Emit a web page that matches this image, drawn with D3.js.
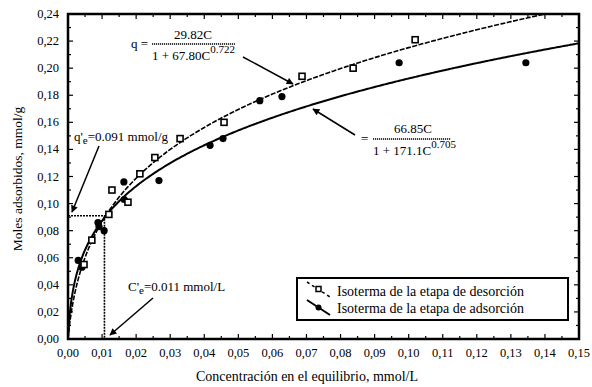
<!DOCTYPE html>
<html>
<head>
<meta charset="utf-8">
<script src="https://cdn.jsdelivr.net/npm/d3@7"></script>
</head>
<body style="margin:0;background:#fff">
<svg id="chart" width="592" height="387"></svg>
<script>
// Measured isotherm points: concentration (mmol/L) and amount adsorbed (mmol/g)
const desorcionC = [0.0047, 0.0070, 0.0120, 0.0129, 0.0176, 0.0211, 0.0255, 0.0329, 0.0458, 0.0687, 0.0837, 0.1019];
const desorcionQ = [0.055, 0.073, 0.092, 0.110, 0.101, 0.122, 0.134, 0.148, 0.160, 0.194, 0.200, 0.221];
const adsorcionC = [0.0030, 0.0041, 0.0088, 0.0091, 0.0106, 0.0164, 0.0165, 0.0267, 0.0417, 0.0455, 0.0563, 0.0628, 0.0972, 0.1344];
const adsorcionQ = [0.058, 0.053, 0.086, 0.083, 0.080, 0.116, 0.103, 0.117, 0.143, 0.148, 0.176, 0.179, 0.204, 0.204];

// Fitted Sips-type models q = a*C / (1 + b*C^n)
const modeloDesorcion = [29.82, 67.80, 0.722];
const modeloAdsorcion = [66.85, 171.1, 0.705];

// Saturation point marked on the plot
const puntoCe = 0.011;
const puntoQe = 0.091;

const xTicks = [0, 0.01, 0.02, 0.03, 0.04, 0.05, 0.06, 0.07, 0.08, 0.09, 0.10, 0.11, 0.12, 0.13, 0.14, 0.15];
const yTicks = [0, 0.02, 0.04, 0.06, 0.08, 0.10, 0.12, 0.14, 0.16, 0.18, 0.20, 0.22, 0.24];
const legendLabels = ["Isoterma de la etapa de desorción", "Isoterma de la etapa de adsorción"];

const FONT = '"Liberation Serif", "Times New Roman", serif';
const svg = d3.select("#chart");
const x = d3.scaleLinear().domain([0, 0.15]).range([68, 579]);
const y = d3.scaleLinear().domain([0, 0.24]).range([339, 14]);
const fmt = d => d3.format(".2f")(d).replace(".", ",");

svg.append("defs").append("clipPath").attr("id", "plotClip")
  .append("rect").attr("x", 68).attr("y", 14).attr("width", 511).attr("height", 325);

const marker = svg.select("defs").append("marker")
  .attr("id", "arrow").attr("viewBox", "0 0 10 10").attr("refX", 9).attr("refY", 5)
  .attr("markerWidth", 9).attr("markerHeight", 7).attr("markerUnits", "userSpaceOnUse")
  .attr("orient", "auto");
marker.append("path").attr("d", "M0,0 L10,5 L0,10 z").attr("fill", "#000");

// Tick marks on all four sides, pointing inward
const minorX = d3.range(0.005, 0.15, 0.01);
const minorY = d3.range(0.01, 0.24, 0.02);
const tickG = svg.append("g").attr("stroke", "#000").attr("stroke-width", 1.2);
xTicks.forEach(t => {
  tickG.append("line").attr("x1", x(t)).attr("x2", x(t)).attr("y1", 339).attr("y2", 334);
  tickG.append("line").attr("x1", x(t)).attr("x2", x(t)).attr("y1", 14).attr("y2", 19);
});
minorX.forEach(t => {
  tickG.append("line").attr("x1", x(t)).attr("x2", x(t)).attr("y1", 339).attr("y2", 336);
  tickG.append("line").attr("x1", x(t)).attr("x2", x(t)).attr("y1", 14).attr("y2", 17);
});
yTicks.forEach(t => {
  tickG.append("line").attr("x1", 68).attr("x2", 73).attr("y1", y(t)).attr("y2", y(t));
  tickG.append("line").attr("x1", 579).attr("x2", 574).attr("y1", y(t)).attr("y2", y(t));
});
minorY.forEach(t => {
  tickG.append("line").attr("x1", 68).attr("x2", 71).attr("y1", y(t)).attr("y2", y(t));
  tickG.append("line").attr("x1", 579).attr("x2", 576).attr("y1", y(t)).attr("y2", y(t));
});

// Tick labels
svg.append("g").selectAll("text").data(xTicks).join("text")
  .attr("x", d => x(d)).attr("y", 357).attr("text-anchor", "middle")
  .attr("font-size", 12.5).text(fmt);
svg.append("g").selectAll("text").data(yTicks).join("text")
  .attr("x", 59).attr("y", d => y(d) + 4).attr("text-anchor", "end")
  .attr("font-size", 12.5).text(fmt);

// Axis titles
svg.append("text").attr("x", 307).attr("y", 381).attr("text-anchor", "middle")
  .attr("font-size", 14).text("Concentración en el equilibrio, mmol/L");
svg.append("text").attr("transform", "translate(22,179) rotate(-90)")
  .attr("text-anchor", "middle").attr("font-size", 13.5).text("Moles adsorbidos, mmol/g");

// Model curves
const model = p => c => p[0] * c / (1 + p[1] * Math.pow(c, p[2]));
const cs = d3.range(0, 0.15001, 0.0005);
const line = d3.line().x(d => x(d[0])).y(d => y(d[1]));
const curves = svg.append("g").attr("clip-path", "url(#plotClip)").attr("fill", "none").attr("stroke", "#000");
curves.append("path").attr("d", line(cs.map(c => [c, model(modeloDesorcion)(c)])))
  .attr("stroke-width", 1.6).attr("stroke-dasharray", "5,1.5");
curves.append("path").attr("d", line(cs.map(c => [c, model(modeloAdsorcion)(c)])))
  .attr("stroke-width", 2);

// Saturation guides
const guide = svg.append("g").attr("stroke", "#000").attr("stroke-width", 1.6).attr("stroke-dasharray", "2,1");
guide.append("line").attr("x1", x(0)).attr("x2", x(0.013)).attr("y1", y(puntoQe)).attr("y2", y(puntoQe));
guide.append("line").attr("x1", x(0.0107)).attr("x2", x(0.0107)).attr("y1", y(puntoQe)).attr("y2", y(0));

// Points
svg.append("g").selectAll("circle").data(adsorcionC).join("circle")
  .attr("cx", d => x(d)).attr("cy", (d, i) => y(adsorcionQ[i])).attr("r", 3.6).attr("fill", "#000");
svg.append("g").selectAll("rect").data(desorcionC).join("rect")
  .attr("x", d => x(d) - 3).attr("y", (d, i) => y(desorcionQ[i]) - 3)
  .attr("width", 6).attr("height", 6).attr("fill", "#fff").attr("stroke", "#000").attr("stroke-width", 1.6);

// Frame
svg.append("rect").attr("x", 68).attr("y", 14).attr("width", 511).attr("height", 325)
  .attr("fill", "none").attr("stroke", "#000").attr("stroke-width", 2.5);

// Equation annotations
function fraction(cx, yNum, x0, x1, yBar, num, denMain, denExp, yDen, prefix, prefixX) {
  const g = svg.append("g").attr("font-size", 13);
  if (prefix) g.append("text").attr("x", prefixX).attr("y", yBar + 4).text(prefix);
  g.append("text").attr("x", cx).attr("y", yNum).attr("text-anchor", "middle").text(num);
  g.append("line").attr("x1", x0).attr("x2", x1).attr("y1", yBar).attr("y2", yBar)
    .attr("stroke", "#000").attr("stroke-width", 1.3).attr("stroke-dasharray", "1.2,0.8");
  const d = g.append("text").attr("x", x0).attr("y", yDen);
  d.append("tspan").text(denMain);
  d.append("tspan").attr("dy", -7).attr("font-size", 11).text(denExp);
}
fraction(193, 39, 152, 235, 44, "29.82C", "1 + 67.80C", "0.722", 60, "q =", 131);
fraction(413, 133, 373, 451, 139, "66.85C", "1 + 171.1C", "0.705", 155, "=", 361);

// Arrows
const arrows = [
  [243, 57, 293, 84],
  [355, 135, 313, 109],
  [99, 146, 72, 212],
  [153, 298, 110, 335]
];
svg.append("g").selectAll("line").data(arrows).join("line")
  .attr("x1", d => d[0]).attr("y1", d => d[1]).attr("x2", d => d[2]).attr("y2", d => d[3])
  .attr("stroke", "#000").attr("stroke-width", 1.5).attr("marker-end", "url(#arrow)");

// Point labels
const qLab = svg.append("text").attr("x", 74).attr("y", 141).attr("font-size", 13);
qLab.append("tspan").text("q'");
qLab.append("tspan").attr("dy", 3).attr("font-size", 11).text("e");
qLab.append("tspan").attr("dy", -3).text("=" + puntoQe.toFixed(3) + " mmol/g");
const cLab = svg.append("text").attr("x", 128).attr("y", 291).attr("font-size", 13);
cLab.append("tspan").text("C'");
cLab.append("tspan").attr("dy", 3).attr("font-size", 11).text("e");
cLab.append("tspan").attr("dy", -3).text("=" + puntoCe.toFixed(3) + " mmol/L");

// Legend
const lg = svg.append("g");
lg.append("rect").attr("x", 297).attr("y", 278).attr("width", 271).attr("height", 42)
  .attr("fill", "#fff").attr("stroke", "#000").attr("stroke-width", 2);
lg.append("line").attr("x1", 307).attr("y1", 282).attr("x2", 330).attr("y2", 297)
  .attr("stroke", "#000").attr("stroke-width", 1.5).attr("stroke-dasharray", "3,3");
lg.append("rect").attr("x", 316).attr("y", 286.5).attr("width", 5).attr("height", 5)
  .attr("fill", "#fff").attr("stroke", "#000").attr("stroke-width", 1.5);
lg.append("line").attr("x1", 307).attr("y1", 300).attr("x2", 330).attr("y2", 315)
  .attr("stroke", "#000").attr("stroke-width", 2);
lg.append("circle").attr("cx", 318.5).attr("cy", 307.5).attr("r", 3).attr("fill", "#000");
lg.selectAll("text.lbl").data(legendLabels).join("text").attr("class", "lbl")
  .attr("x", 337).attr("y", (d, i) => 296 + i * 17).attr("font-size", 14).text(d => d);

// Serif face for every label
svg.selectAll("text").style("font-family", FONT);
</script>
</body>
</html>
